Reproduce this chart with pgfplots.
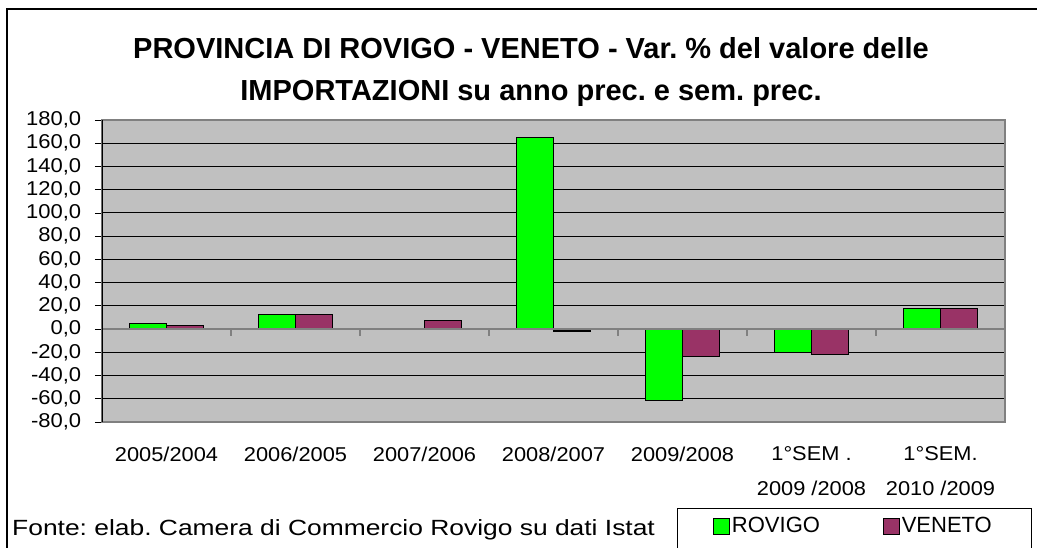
\documentclass[border=0pt]{standalone}
\usepackage{fontspec}
\setmainfont{Liberation Sans}
\usepackage{pgfplots}
\pgfplotsset{compat=1.18}
\definecolor{rov}{HTML}{00FF00}
\definecolor{ven}{HTML}{993366}
\definecolor{plotbg}{HTML}{C0C0C0}
\definecolor{bord}{HTML}{808080}
\frenchspacing
\begin{document}
\frenchspacing
\begin{tikzpicture}[x=1pt,y=1pt]
\useasboundingbox (0,0) rectangle (1037,547);
\fill[white] (0,0) rectangle (1037,547);
\draw[black, line width=1.2pt] (7,-10) -- (7,538) -- (1050,538);
\node[font=\fontsize{29}{34}\selectfont\bfseries, anchor=base, inner sep=0pt] at (531,488.5) {PROVINCIA DI ROVIGO - VENETO - Var. \% del valore delle};
\node[font=\fontsize{29}{34}\selectfont\bfseries, anchor=base, inner sep=0pt] at (531,446.5) {IMPORTAZIONI su anno prec. e sem. prec.};
\node[font=\fontsize{22}{26}\selectfont, anchor=base west, inner sep=0pt, xscale=1.2] at (12,12) {Fonte: elab. Camera di Commercio Rovigo su dati Istat};
\draw[black, line width=0.8pt] (677,-10) -- (677,39) -- (1031,39) -- (1031,-10);
\begin{axis}[
  at={(102pt,125pt)}, anchor=south west,
  width=903pt, height=302pt, scale only axis,
  xmin=-0.5, xmax=6.5, ymin=-80, ymax=180,
  ytick={-80,-60,...,180},
  xtick={0,...,6},
  xticklabels={2005/2004, 2006/2005, 2007/2006, 2008/2007, 2009/2008, {1°SEM .\\2009 /2008}, {1°SEM.\\2010 /2009}},
  axis background/.style={fill=plotbg},
  axis line style={bord, line width=1.2pt},
  ymajorgrids, grid style={black, line width=0.9pt},
  ybar=0pt, bar width=37pt,
  ytick pos=left, tick align=outside, major tick length=7pt,
  x tick style={draw=none},
  y tick style={black, line width=0.8pt},
  yticklabel style={font=\fontsize{20}{24}\selectfont, xscale=1.1, xshift=-9pt},
  xticklabel style={font=\fontsize{20}{35}\selectfont, align=center, yshift=-14pt, xscale=1.09},
  /pgf/number format/fixed, /pgf/number format/fixed zerofill,
  /pgf/number format/precision=1, /pgf/number format/use comma,
  /pgf/number format/assume math mode=true,
  legend columns=2,
  legend style={draw=none, fill=none, at={(axis description cs:0.6766,-0.3444)}, anchor=west,
    font=\fontsize{22}{26}\selectfont, inner xsep=0pt, inner ysep=0pt,
    /tikz/every even column/.append style={column sep=61pt}},
  legend image code/.code={\draw[#1, line width=0.8pt] (0pt,-8pt) rectangle (16pt,8pt);},
]
\addplot[fill=rov, draw=black, line width=1.2pt] coordinates {(0,4.9) (1,12.3) (2,0) (3,164.6) (4,-61.5) (5,-20.5) (6,17.8)};
\addplot[fill=ven, draw=black, line width=1.2pt] coordinates {(0,3.2) (1,12.3) (2,7.7) (3,-1.6) (4,-23.5) (5,-22.0) (6,17.8)};
\legend{ROVIGO, VENETO}
\draw[bord, line width=1.2pt] (axis cs:-0.5,0) -- (axis cs:6.5,0);
\pgfplotsinvokeforeach{0.5,1.5,2.5,3.5,4.5,5.5,6.5}{\draw[bord, line width=1.2pt] (axis cs:#1,0) -- ([yshift=-7pt]axis cs:#1,0);}
\draw[black, line width=1.2pt] (rel axis cs:0,0) -- (rel axis cs:0,1);
\end{axis}
\end{tikzpicture}
\end{document}
